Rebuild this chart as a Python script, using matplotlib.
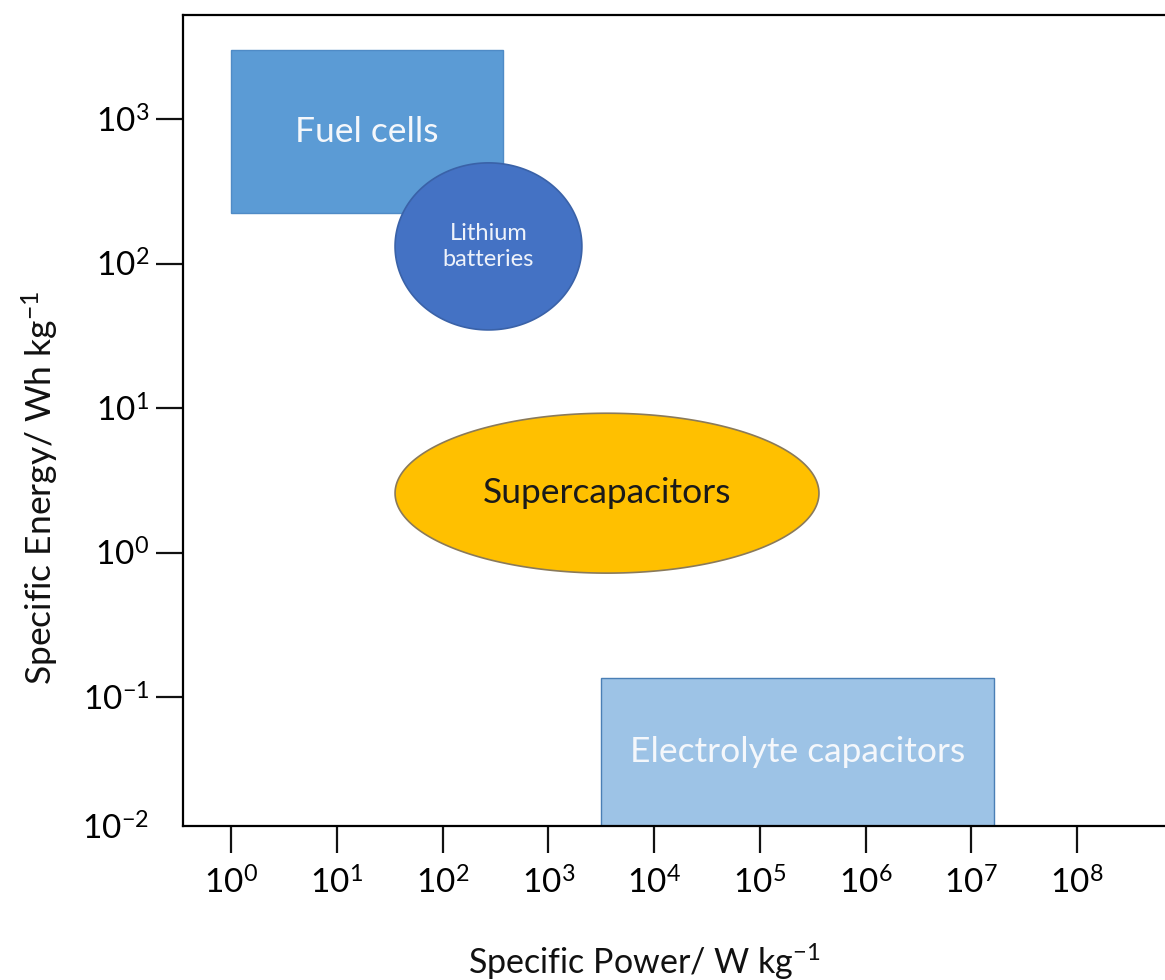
import numpy as np
import matplotlib.pyplot as plt
from matplotlib.patches import Rectangle

plt.rcParams['font.family'] = ['Lato', 'DejaVu Sans']
plt.rcParams['mathtext.fontset'] = 'custom'
plt.rcParams['mathtext.rm'] = 'Lato'

# regions: power range (W/kg), energy range (Wh/kg)
rect_names = ['Fuel cells', 'Electrolyte capacitors']
rect_power = [(1, 375), (3150, 1.64e7)]
rect_energy = [(223, 3000), (0.01, 0.135)]
rect_colors = ['#5B9BD5', '#9DC3E6']
rect_edges = ['#4F8BC6', '#4A7FB5']

ell_names = ['Lithium\nbatteries', 'Supercapacitors']
ell_power = [(35.6, 2080), (35.6, 3.63e5)]
ell_energy = [(34.7, 497), (0.72, 9.2)]
ell_colors = ['#4472C4', '#FFC000']
ell_edges = ['#3A62A8', '#8A7A5A']
ell_text = ['#EEF2FA', '#1A1A1A']
ell_size = [17, 25.5]

x_ticks = [10.0 ** k for k in range(0, 9)]
y_ticks = [10.0 ** k for k in range(-1, 4)]

fig = plt.figure(figsize=(11.65, 9.8), dpi=100)
ax = fig.add_axes([0.15708, 0.15714, 0.87296, 0.82755])
ax.set_xscale('log')
ax.set_yscale('log')
ax.set_xlim(10 ** -0.4539, 10 ** 9.163)
ax.set_ylim(10 ** -1.8927, 10 ** 3.7197)

# rectangles
for i in range(len(rect_names)):
    (x0, x1), (y0, y1) = rect_power[i], rect_energy[i]
    ax.add_patch(Rectangle((x0, y0), x1 - x0, y1 - y0, facecolor=rect_colors[i],
                           edgecolor=rect_edges[i], lw=1.0, zorder=2))

# ellipses drawn in log space
t = np.linspace(0, 2 * np.pi, 300)
for i in range(len(ell_names)):
    lx = np.log10(ell_power[i]); ly = np.log10(ell_energy[i])
    cx, rx = lx.mean(), (lx[1] - lx[0]) / 2
    cy, ry = ly.mean(), (ly[1] - ly[0]) / 2
    ax.fill(10 ** (cx + rx * np.cos(t)), 10 ** (cy + ry * np.sin(t)),
            facecolor=ell_colors[i], edgecolor=ell_edges[i], lw=1.2, zorder=3)

# labels
fc_x = np.sqrt(rect_power[0][0] * rect_power[0][1])
fc_y = 10 ** (np.log10(rect_energy[0][1]) - 0.57)
ax.text(fc_x, fc_y, rect_names[0], color='#F4F7FB', fontsize=25.5,
        ha='center', va='center', zorder=4)
ec_x = np.sqrt(rect_power[1][0] * rect_power[1][1])
ax.text(ec_x, 10 ** -1.38, rect_names[1], color='#F4F7FB', fontsize=25.5,
        ha='center', va='center', zorder=4)
for i in range(len(ell_names)):
    ax.text(np.sqrt(ell_power[i][0] * ell_power[i][1]),
            np.sqrt(ell_energy[i][0] * ell_energy[i][1]), ell_names[i],
            color=ell_text[i], fontsize=ell_size[i], ha='center', va='center',
            linespacing=1.3, zorder=4)

# axes styling
for s in ['top', 'left', 'bottom', 'right']:
    ax.spines[s].set_linewidth(1.6)
ax.spines['right'].set_visible(False)

ax.set_xticks(x_ticks)
ax.set_xticklabels([r'$\mathregular{10^{%d}}$' % k for k in range(0, 9)])
ax.set_yticks(y_ticks)
ax.set_yticklabels([r'$\mathregular{10^{%d}}$' % k for k in range(-1, 4)])
ax.xaxis.set_minor_locator(plt.NullLocator())
ax.set_yticks([ax.get_ylim()[0]], minor=True)
ax.set_yticklabels([r'$\mathregular{10^{-2}}$'], minor=True)
ax.tick_params(axis='both', which='major', direction='out', length=19.5, width=1.6,
               labelsize=24, color='#111111')
ax.tick_params(axis='x', which='major', pad=10)
ax.tick_params(axis='y', which='major', pad=5)
ax.tick_params(axis='y', which='minor', length=0, labelsize=24, pad=24.5)

fig.text(644 / 1165, 1 - 962 / 980, r'Specific Power/ W kg$\mathregular{^{-1}}$',
         fontsize=24.5, ha='center', va='center', color='#111111')
fig.text(40 / 1165, 1 - 488 / 980, r'Specific Energy/ Wh kg$\mathregular{^{-1}}$',
         fontsize=25.5, ha='center', va='center', rotation=90, color='#111111')

fig.savefig('out.png', dpi=100)
